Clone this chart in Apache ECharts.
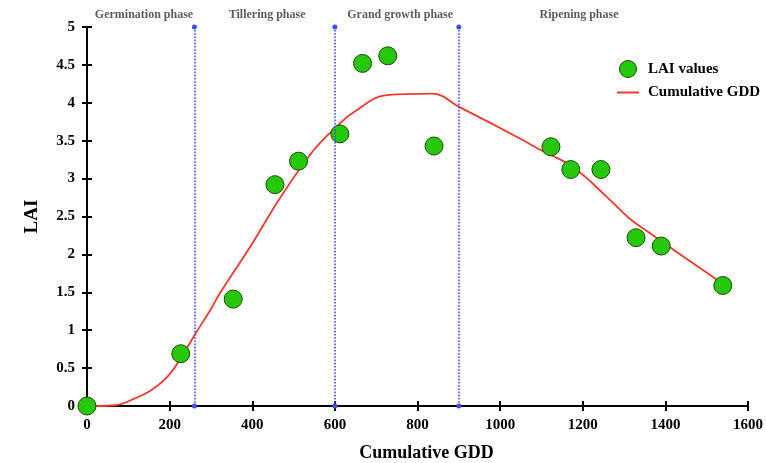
<!DOCTYPE html>
<html>
<head>
<meta charset="utf-8">
<script src="https://cdn.jsdelivr.net/npm/echarts@6/dist/echarts.min.js"></script>
<style>
  html, body { margin: 0; padding: 0; background: #fff; }
  #main { width: 766px; height: 463px; }
</style>
</head>
<body>
<div id="main"></div>
<script>
// LAI measurements (cumulative GDD, LAI)
var laiGdd = [0, 227, 354, 455, 512, 612, 667, 728, 840, 1123, 1171, 1244, 1329, 1390, 1539];
var laiValues = [0, 0.69, 1.41, 2.92, 3.23, 3.59, 4.52, 4.62, 3.43, 3.42, 3.12, 3.12, 2.22, 2.11, 1.59];

// fitted curve
var curveGdd = [0, 19, 68, 116, 156, 197, 230, 261, 300, 322, 395, 467, 548, 605, 644, 725, 835, 903, 1048, 1097, 1177, 1258, 1314, 1363, 1444, 1537];
var curveLai = [0, 0, 0.01, 0.1, 0.21, 0.4, 0.66, 0.94, 1.28, 1.49, 2.1, 2.74, 3.37, 3.69, 3.87, 4.1, 4.12, 3.94, 3.53, 3.38, 3.15, 2.76, 2.47, 2.28, 1.97, 1.62];

// phase borders and names
var phaseBorders = [260, 600, 900];
var phaseNames = ['Germination phase', 'Tillering phase', 'Grand growth phase', 'Ripening phase'];
var phaseCenters = [138, 436, 758, 1191];

var xTicks = {min: 0, max: 1600, interval: 200};
var yTicks = {min: 0, max: 5, interval: 0.5};

var font = 'Liberation Serif';

function zip(a, b) {
  var out = [];
  for (var i = 0; i < a.length; i++) out.push([a[i], b[i]]);
  return out;
}

var chart = echarts.init(document.getElementById('main'));

var tickAxis = function (extra) {
  // second axis that only draws the inner half of each tick
  return Object.assign({
    type: 'value',
    axisLine: {show: false},
    axisTick: {show: true, inside: true, length: 5, lineStyle: {color: '#000', width: 2}},
    axisLabel: {show: false},
    splitLine: {show: false}
  }, extra);
};

var option = {
  backgroundColor: '#fff',
  animation: false,
  grid: {left: 87, right: 18, top: 27, bottom: 57, outerBoundsMode: 'none'},
  legend: {
    orient: 'vertical',
    left: 611,
    top: 55,
    itemWidth: 22,
    itemHeight: 17,
    itemGap: 7,
    textStyle: {fontFamily: font, fontWeight: 'bold', fontSize: 15, color: '#000', padding: [0, 0, 0, 4]},
    data: [
      {name: 'LAI values', itemStyle: {borderWidth: 1}},
      {name: 'Cumulative GDD', itemStyle: {opacity: 0}}
    ]
  },
  xAxis: [{
    type: 'value',
    min: xTicks.min, max: xTicks.max, interval: xTicks.interval,
    position: 'bottom',
    name: 'Cumulative GDD',
    nameLocation: 'middle',
    nameGap: 38,
    nameTextStyle: {fontFamily: font, fontWeight: 'bold', fontSize: 18, color: '#000', padding: [0, 0, 0, 18]},
    axisLine: {lineStyle: {color: '#000', width: 2}},
    axisTick: {length: 5, lineStyle: {color: '#000', width: 2}},
    axisLabel: {fontFamily: font, fontWeight: 'bold', fontSize: 15, color: '#000', margin: 12,
      formatter: function (v) { return String(v); }},
    splitLine: {show: false}
  }, tickAxis({min: xTicks.min, max: xTicks.max, interval: xTicks.interval, position: 'bottom'})],
  yAxis: [{
    type: 'value',
    min: yTicks.min, max: yTicks.max, interval: yTicks.interval,
    position: 'left',
    name: 'LAI',
    nameLocation: 'middle',
    nameGap: 45,
    nameTextStyle: {fontFamily: font, fontWeight: 'bold', fontSize: 19, color: '#000'},
    axisLine: {lineStyle: {color: '#000', width: 2}},
    axisTick: {length: 5, lineStyle: {color: '#000', width: 2}},
    axisLabel: {fontFamily: font, fontWeight: 'bold', fontSize: 15, color: '#000', margin: 12},
    splitLine: {show: false}
  }, tickAxis({min: yTicks.min, max: yTicks.max, interval: yTicks.interval, position: 'left'})],
  series: [{
    name: 'Cumulative GDD',
    type: 'line',
    smooth: 0.4,
    symbol: 'none',
    z: 3,
    lineStyle: {color: '#f5382a', width: 1.8},
    itemStyle: {color: '#f5382a'},
    data: zip(curveGdd, curveLai),
    markLine: {
      silent: true,
      symbol: ['circle', 'circle'],
      symbolSize: 5,
      label: {show: false},
      lineStyle: {color: '#3b4cf5', type: 'dotted', width: 1.6},
      itemStyle: {color: '#2b3cf5'},
      data: phaseBorders.map(function (b) {
        return [{coord: [b, yTicks.min]}, {coord: [b, yTicks.max]}];
      })
    }
  }, {
    name: 'LAI values',
    type: 'scatter',
    symbolSize: 18,
    clip: false,
    z: 4,
    itemStyle: {color: '#25c80a', borderColor: '#1d4a0c', borderWidth: 1, opacity: 1},
    data: zip(laiGdd, laiValues)
  }, {
    name: 'phases',
    type: 'scatter',
    symbolSize: 0,
    clip: false,
    silent: true,
    label: {
      show: true,
      position: 'top',
      distance: 6,
      fontFamily: font,
      fontWeight: 'bold',
      fontSize: 12,
      color: '#333',
      formatter: function (p) { return p.name; }
    },
    data: phaseNames.map(function (n, i) {
      return {name: n, value: [phaseCenters[i], yTicks.max]};
    })
  }]
};

chart.setOption(option);
</script>
</body>
</html>
